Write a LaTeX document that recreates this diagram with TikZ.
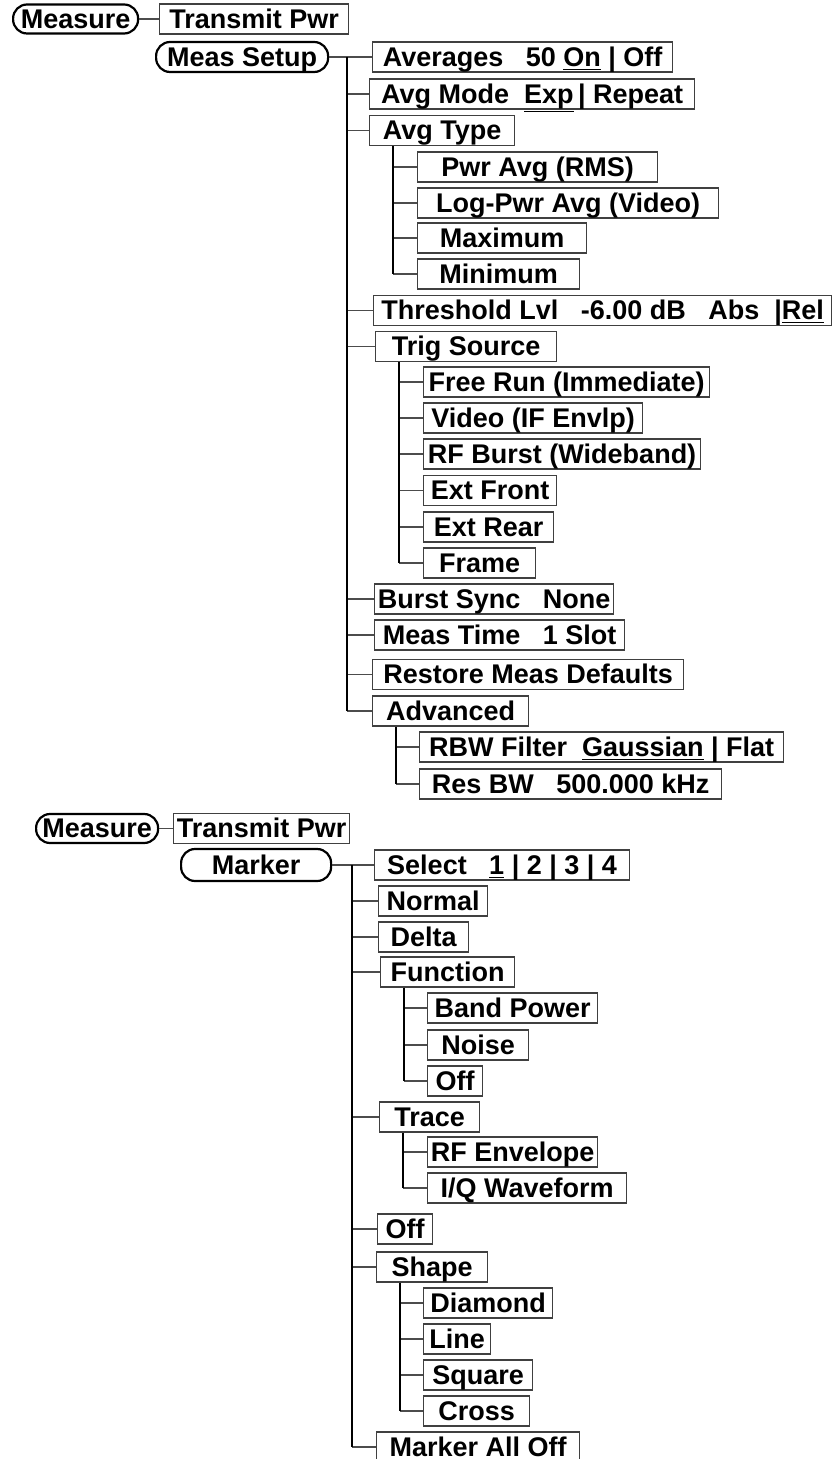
\documentclass[tikz,border=0pt]{standalone}
\usepackage{fontspec}
\setmainfont{Liberation Sans}
\usetikzlibrary{calc}

\begin{document}
\begin{tikzpicture}[
  x=0.5pt, y=-0.5pt,
  lbl/.style={font=\bfseries\fontsize{13.5}{16}\selectfont, text height=9.8pt, text depth=0.6pt},
  box/.style={lbl, draw=black!75, line width=0.6pt, anchor=west, minimum height=15pt, inner sep=0pt},
  key/.style={lbl, draw, line width=1.1pt, rounded corners=7pt, anchor=west, minimum height=14.5pt, inner sep=0pt},
  wd/.style={minimum width=#1*0.5pt},
  trunk/.style={line width=1pt},
  twig/.style={draw=black!70, line width=0.6pt},
]
\useasboundingbox (0,0) rectangle (832,1459);
\clip (0,0) rectangle (832,1459);

% --- Meas Setup menu ---
\node[key, wd=125] (meas1) at (12,19) {Measure};
\node[box, wd=189] (tx1) at (159,19) {Transmit Pwr};
\draw[twig] (meas1.east) -- (tx1.west);
\node[key, wd=172, minimum height=15pt] (setup) at (155,57) {Meas Setup};
\coordinate (setupT) at (347,57);
\foreach \n/\y/\x/\w/\t in {avg/57/372/300/Averages~~~50 \underline{On} | Off,
    mode/94/369/325/Avg Mode~~\underline{Exp}\,| Repeat, type/130.5/369/145/Avg Type,
    thr/310.5/373/458/Threshold Lvl~~~-6.00 dB~~~Abs~~|\underline{Rel}, trig/346.5/375/181/Trig Source,
    burst/599/374/239/Burst Sync~~~None, mtime/635/374/250/Meas Time~~~1 Slot,
    restore/674.5/372/311/Restore Meas Defaults, adv/711/372/156/Advanced}{
  \node[box, wd=\w] (\n) at (\x,\y) {\t};
  \draw[twig] (setupT |- \n.west) -- (\n.west);
}
\draw[twig] (setup.east) -- (setupT);
\draw[trunk] (setupT) -- (setupT |- adv.west);

% Avg Type
\coordinate (typeT) at ([xshift=12pt]type.south west);
\foreach \n/\y/\w/\t in {rms/167/240/Pwr Avg (RMS), logp/203/301/Log-Pwr Avg (Video),
    maxi/238/169/Maximum, mini/274/162/Minimum}{
  \node[box, wd=\w] (\n) at (417,\y) {\t};
  \draw[twig] (typeT |- \n.west) -- (\n.west);
}
\draw[trunk] (typeT) -- (typeT |- mini.west);

% Trig Source
\coordinate (trigT) at ([xshift=12pt]trig.south west);
\foreach \n/\y/\w/\t in {free/382/286/Free Run (Immediate), video/418/219/Video (IF Envlp),
    rfb/454/277/RF Burst (Wideband), extf/490.5/133/Ext Front, extr/527/130/Ext Rear,
    frame/563/112/Frame}{
  \node[box, wd=\w] (\n) at (423,\y) {\t};
  \draw[twig] (trigT |- \n.west) -- (\n.west);
}
\draw[trunk] (trigT) -- (trigT |- frame.west);

% Advanced
\coordinate (advT) at ([xshift=12pt]adv.south west);
\foreach \n/\y/\w/\t in {rbw/747/364/RBW Filter~~\underline{Gaussian} | Flat,
    resbw/784/302/Res BW~~~500.000 kHz}{
  \node[box, wd=\w] (\n) at (419,\y) {\t};
  \draw[twig] (advT |- \n.west) -- (\n.west);
}
\draw[trunk] (advT) -- (advT |- resbw.west);

% --- Marker menu ---
\node[key, wd=122] (meas2) at (35,828.5) {Measure};
\node[box, wd=176] (tx2) at (173,828.5) {Transmit Pwr};
\draw[twig] (meas2.east) -- (tx2.west);
\node[key, wd=150, minimum height=16pt] (marker) at (180,865) {Marker};
\coordinate (markT) at (352,865);
\foreach \n/\y/\x/\w/\t in {sel/865/374/255/Select~~~\underline{1} | 2 | 3 | 4,
    normal/901/378/109/Normal, delta/937/378/90/Delta, func/972/380/134/Function,
    trace/1117/379/100/Trace, moff/1229/377/55/Off, shape/1267/376/111/Shape,
    alloff/1447/376/203/Marker All Off}{
  \node[box, wd=\w] (\n) at (\x,\y) {\t};
  \draw[twig] (markT |- \n.west) -- (\n.west);
}
\draw[twig] (marker.east) -- (markT);
\draw[trunk] (markT) -- (markT |- alloff.west);

% Function
\coordinate (funcT) at ([xshift=12pt]func.south west);
\foreach \n/\y/\w/\t in {band/1008/170/Band Power, noise/1045/101/Noise, foff/1081/55/Off}{
  \node[box, wd=\w] (\n) at (427,\y) {\t};
  \draw[twig] (funcT |- \n.west) -- (\n.west);
}
\draw[trunk] (funcT) -- (funcT |- foff.west);

% Trace
\coordinate (traceT) at ([xshift=12pt]trace.south west);
\foreach \n/\y/\w/\t in {rfenv/1152/170/RF Envelope, iq/1188/199/{I/Q Waveform}}{
  \node[box, wd=\w] (\n) at (427,\y) {\t};
  \draw[twig] (traceT |- \n.west) -- (\n.west);
}
\draw[trunk] (traceT) -- (traceT |- iq.west);

% Shape
\coordinate (shapeT) at ([xshift=12pt]shape.south west);
\foreach \n/\y/\w/\t in {diamond/1303/129/Diamond, line/1339/67/Line, square/1375/109/Square,
    cross/1411/106/Cross}{
  \node[box, wd=\w] (\n) at (423,\y) {\t};
  \draw[twig] (shapeT |- \n.west) -- (\n.west);
}
\draw[trunk] (shapeT) -- (shapeT |- cross.west);
\end{tikzpicture}
\end{document}
